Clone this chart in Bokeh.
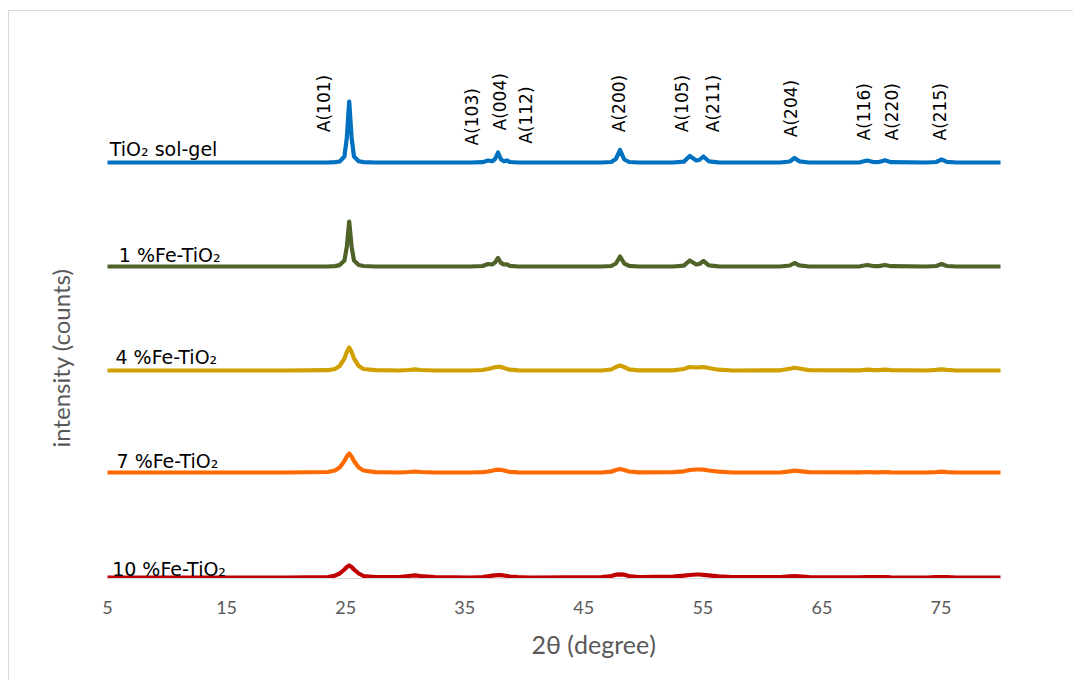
import math

from bokeh.core.properties import value
from bokeh.embed import file_html
from bokeh.models import ColumnDataSource, FixedTicker, InlineStyleSheet, Range1d, Title
from bokeh.plotting import figure
from bokeh.resources import INLINE

# 2-theta sampling positions (degree) shared by all patterns
two_theta = [5.0, 10.0, 15.0, 20.0, 23.5, 24.1, 24.5, 24.9, 25.1, 25.3, 25.5, 25.7, 26.1, 26.5, 27.5,
             29.5, 30.3, 30.8, 31.3, 32.5,
             35.5, 36.5, 36.95, 37.3, 37.55, 37.8, 38.05, 38.3, 38.55, 38.8, 39.5, 40.5,
             46.5, 47.3, 47.7, 48.05, 48.4, 48.8, 49.6,
             52.5, 53.4, 53.9, 54.45, 54.7, 55.05, 55.5, 56.3, 57.5,
             61.5, 62.3, 62.7, 63.1, 63.9,
             68.2, 68.8, 69.4, 69.8, 70.3, 70.8, 73.8, 74.6, 75.05, 75.5, 76.3, 80.0]

# intensity above background for each sample (counts)
tio2_solgel = [0, 0, 0, 0, 0,
               3, 10, 60, 250, 610, 250, 60, 12, 4, 0,
               0, 0, 0, 0, 0,
               0, 3, 20, 12, 35, 100, 30, 12, 20, 5, 0, 0,
               0, 5, 35, 125, 30, 5, 0,
               0, 8, 65, 20, 25, 60, 12, 2, 0,
               0, 10, 45, 12, 0,
               2, 20, 3, 5, 22, 3, 0, 5, 30, 6, 0, 0]
fe1_tio2 = [0, 0, 0, 0, 0,
            4, 14, 60, 200, 450, 200, 60, 15, 5, 0,
            0, 0, 0, 0, 0,
            0, 5, 25, 20, 40, 85, 35, 20, 22, 6, 0, 0,
            0, 5, 30, 100, 30, 6, 0,
            0, 8, 60, 20, 25, 55, 12, 2, 0,
            0, 10, 35, 12, 0,
            2, 15, 3, 4, 15, 3, 0, 5, 25, 5, 0, 0]
fe4_tio2 = [0, 0, 0, 0, 3,
            15, 45, 120, 185, 230, 185, 120, 45, 15, 3,
            0, 5, 12, 5, 0,
            0, 5, 15, 25, 32, 38, 35, 25, 15, 8, 2, 0,
            0, 10, 35, 50, 35, 12, 2,
            2, 15, 35, 30, 32, 35, 25, 8, 0,
            2, 18, 28, 20, 4,
            2, 8, 3, 3, 8, 3, 0, 6, 12, 6, 0, 0]
fe7_tio2 = [0, 0, 0, 0, 5,
            20, 50, 115, 160, 190, 160, 115, 50, 20, 4,
            0, 5, 10, 5, 0,
            0, 4, 10, 18, 25, 28, 27, 20, 12, 6, 2, 0,
            0, 8, 25, 35, 25, 10, 2,
            3, 12, 25, 30, 30, 28, 20, 8, 0,
            0, 12, 18, 14, 3,
            2, 5, 2, 2, 5, 2, 0, 4, 8, 4, 0, 0]
fe10_tio2 = [0, 0, 0, 0, 5,
             18, 40, 80, 105, 120, 105, 80, 40, 15, 4,
             3, 15, 22, 15, 3,
             0, 5, 12, 18, 22, 25, 24, 20, 15, 10, 4, 0,
             3, 15, 28, 32, 28, 15, 4,
             8, 18, 25, 30, 30, 27, 22, 12, 3,
             3, 12, 15, 12, 3,
             2, 5, 3, 3, 5, 2, 0, 3, 5, 3, 0, 0]

sample_names = ["TiO₂ sol-gel", "1 %Fe-TiO₂", "4 %Fe-TiO₂", "7 %Fe-TiO₂", "10 %Fe-TiO₂"]
sample_counts = [tio2_solgel, fe1_tio2, fe4_tio2, fe7_tio2, fe10_tio2]
stack_offsets = [4160, 3120, 2080, 1060, 10]
sample_colors = ["#0070C0", "#4F6228", "#CFA000", "#FF6A00", "#C00000"]

# where each sample name sits (start of text, text baseline)
name_x = [5.19, 5.95, 5.67, 5.76, 5.39]
name_y = [4297, 3237, 2213, 1180, 95]

# anatase reflections marked above the sol-gel pattern
hkl_labels = ["A(101)", "A(103)", "A(004)", "A(112)", "A(200)", "A(105)",
              "A(211)", "A(204)", "A(116)", "A(220)", "A(215)"]
hkl_x = [23.15, 35.65, 37.94, 40.13, 47.97, 53.29, 55.82, 62.39, 68.55, 70.88, 74.94]
hkl_y = [4463, 4330, 4480, 4347, 4463, 4463, 4463, 4413, 4380, 4380, 4380]

x_ticks = [5, 15, 25, 35, 45, 55, 65, 75]

p = figure(width=1073, height=680, output_backend="svg", toolbar_location=None,
           title=None, y_axis_location=None,
           x_range=Range1d(5, 80), y_range=Range1d(0, 5580),
           min_border_left=107, min_border_right=73,
           min_border_top=20, min_border_bottom=102)
p.xgrid.visible = False
p.ygrid.visible = False
p.outline_line_color = None
p.background_fill_color = "white"
p.border_fill_color = "white"

ax = p.xaxis[0]
ax.ticker = FixedTicker(ticks=x_ticks)
ax.axis_line_color = "#D9D9D9"
ax.axis_line_width = 1
ax.major_tick_line_color = None
ax.minor_tick_line_color = None
ax.major_tick_out = 0
ax.major_tick_in = 0
ax.major_label_standoff = 22
ax.major_label_text_font = "Lato"
ax.major_label_text_font_size = "18px"
ax.major_label_text_color = "#595959"

for name, counts, off, color in zip(sample_names, sample_counts, stack_offsets, sample_colors):
    ys = [c + off for c in counts]
    p.line(two_theta, ys, line_color=color, line_width=4.2,
           line_join="round", line_cap="round")

names_src = ColumnDataSource(dict(x=name_x, y=name_y, text=sample_names))
p.text("x", "y", text="text", source=names_src, text_font=value("DejaVu Sans"),
       text_font_size="19px", text_color="#000000", text_align="left",
       text_baseline="alphabetic")

hkl_src = ColumnDataSource(dict(x=hkl_x, y=hkl_y, text=hkl_labels))
p.text("x", "y", text="text", source=hkl_src, angle=math.pi / 2,
       text_font=value("DejaVu Sans"), text_font_size="17px", text_color="#000000",
       text_align="left", text_baseline="middle")

# axis titles
p.add_layout(Title(text="2θ (degree)", align="left", offset=424, vertical_align="top",
                   standoff=25, text_font="Lato", text_font_size="25px",
                   text_font_style="normal", text_color="#595959"), "below")
p.add_layout(Title(text="intensity (counts)", align="left", offset=131,
                   vertical_align="bottom", standoff=66, text_font="Lato",
                   text_font_size="24px", text_font_style="normal",
                   text_color="#595959"), "left")

# thin frame along the top and left of the chart area
p.stylesheets = [InlineStyleSheet(css=(
    ":host { position: relative; }"
    ":host::after { content: ''; position: absolute; left: 8px; top: 10px; right: 0; bottom: 0;"
    " border-top: 1px solid #D9D9D9; border-left: 1px solid #D9D9D9; pointer-events: none; }"
))]

open("out.html", "w").write(file_html(p, INLINE))
